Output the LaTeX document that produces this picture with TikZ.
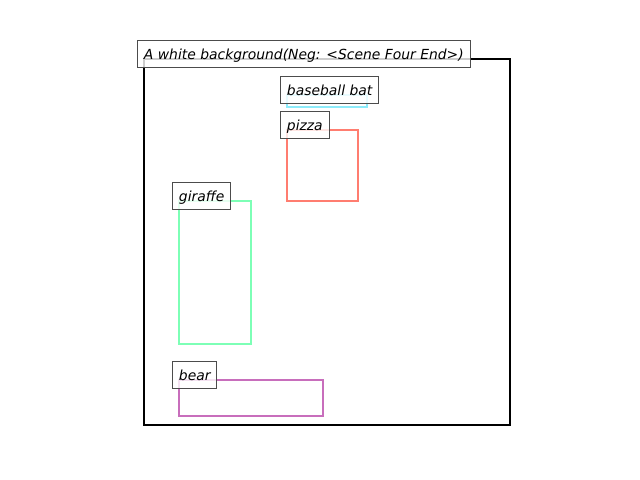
\documentclass[tikz,border=0pt]{standalone}
\usepackage{fontspec}
\setmainfont{DejaVu Sans}
\usetikzlibrary{positioning}

\definecolor{batcyan}{RGB}{140,235,250}
\definecolor{pizzared}{RGB}{255,125,112}
\definecolor{giraffegreen}{RGB}{125,255,182}
\definecolor{bearpurple}{RGB}{200,110,188}

\begin{document}
\begin{tikzpicture}[x=0.72pt,y=-0.72pt,
    objbox/.style={line width=1.44pt},
    tag/.style={draw=black!70, line width=0.72pt, fill=white, fill opacity=0.8,
        text opacity=1, inner xsep=4.6pt, inner ysep=4pt,
        text height=9.3pt, text depth=2.4pt, anchor=base west, xshift=-5pt,
        font=\itshape\fontsize{10}{12}\selectfont}]
\useasboundingbox (0,0) rectangle (640,480);

% Boxes
\draw[black, line width=1.44pt] (144,59) coordinate (scene) rectangle (510,425);
\draw[objbox, batcyan] (287,95) coordinate (bat) rectangle (367,107);
\draw[objbox, pizzared] (287,130) coordinate (pizza) rectangle (358,201);
\draw[objbox, giraffegreen] (179,201) coordinate (giraffe) rectangle (251,344);
\draw[objbox, bearpurple] (179,380) coordinate (bear) rectangle (323,416);

% Labels
\node[tag] (scenetag) at (scene) {A white background(Neg: <Scene Four End>)};
\node[tag] (battag) at (bat) {baseball bat};
\node[tag] (pizzatag) at (pizza) {pizza};
\node[tag] (giraffetag) at (giraffe) {giraffe};
\node[tag] (beartag) at (bear) {bear};

\end{tikzpicture}
\end{document}
